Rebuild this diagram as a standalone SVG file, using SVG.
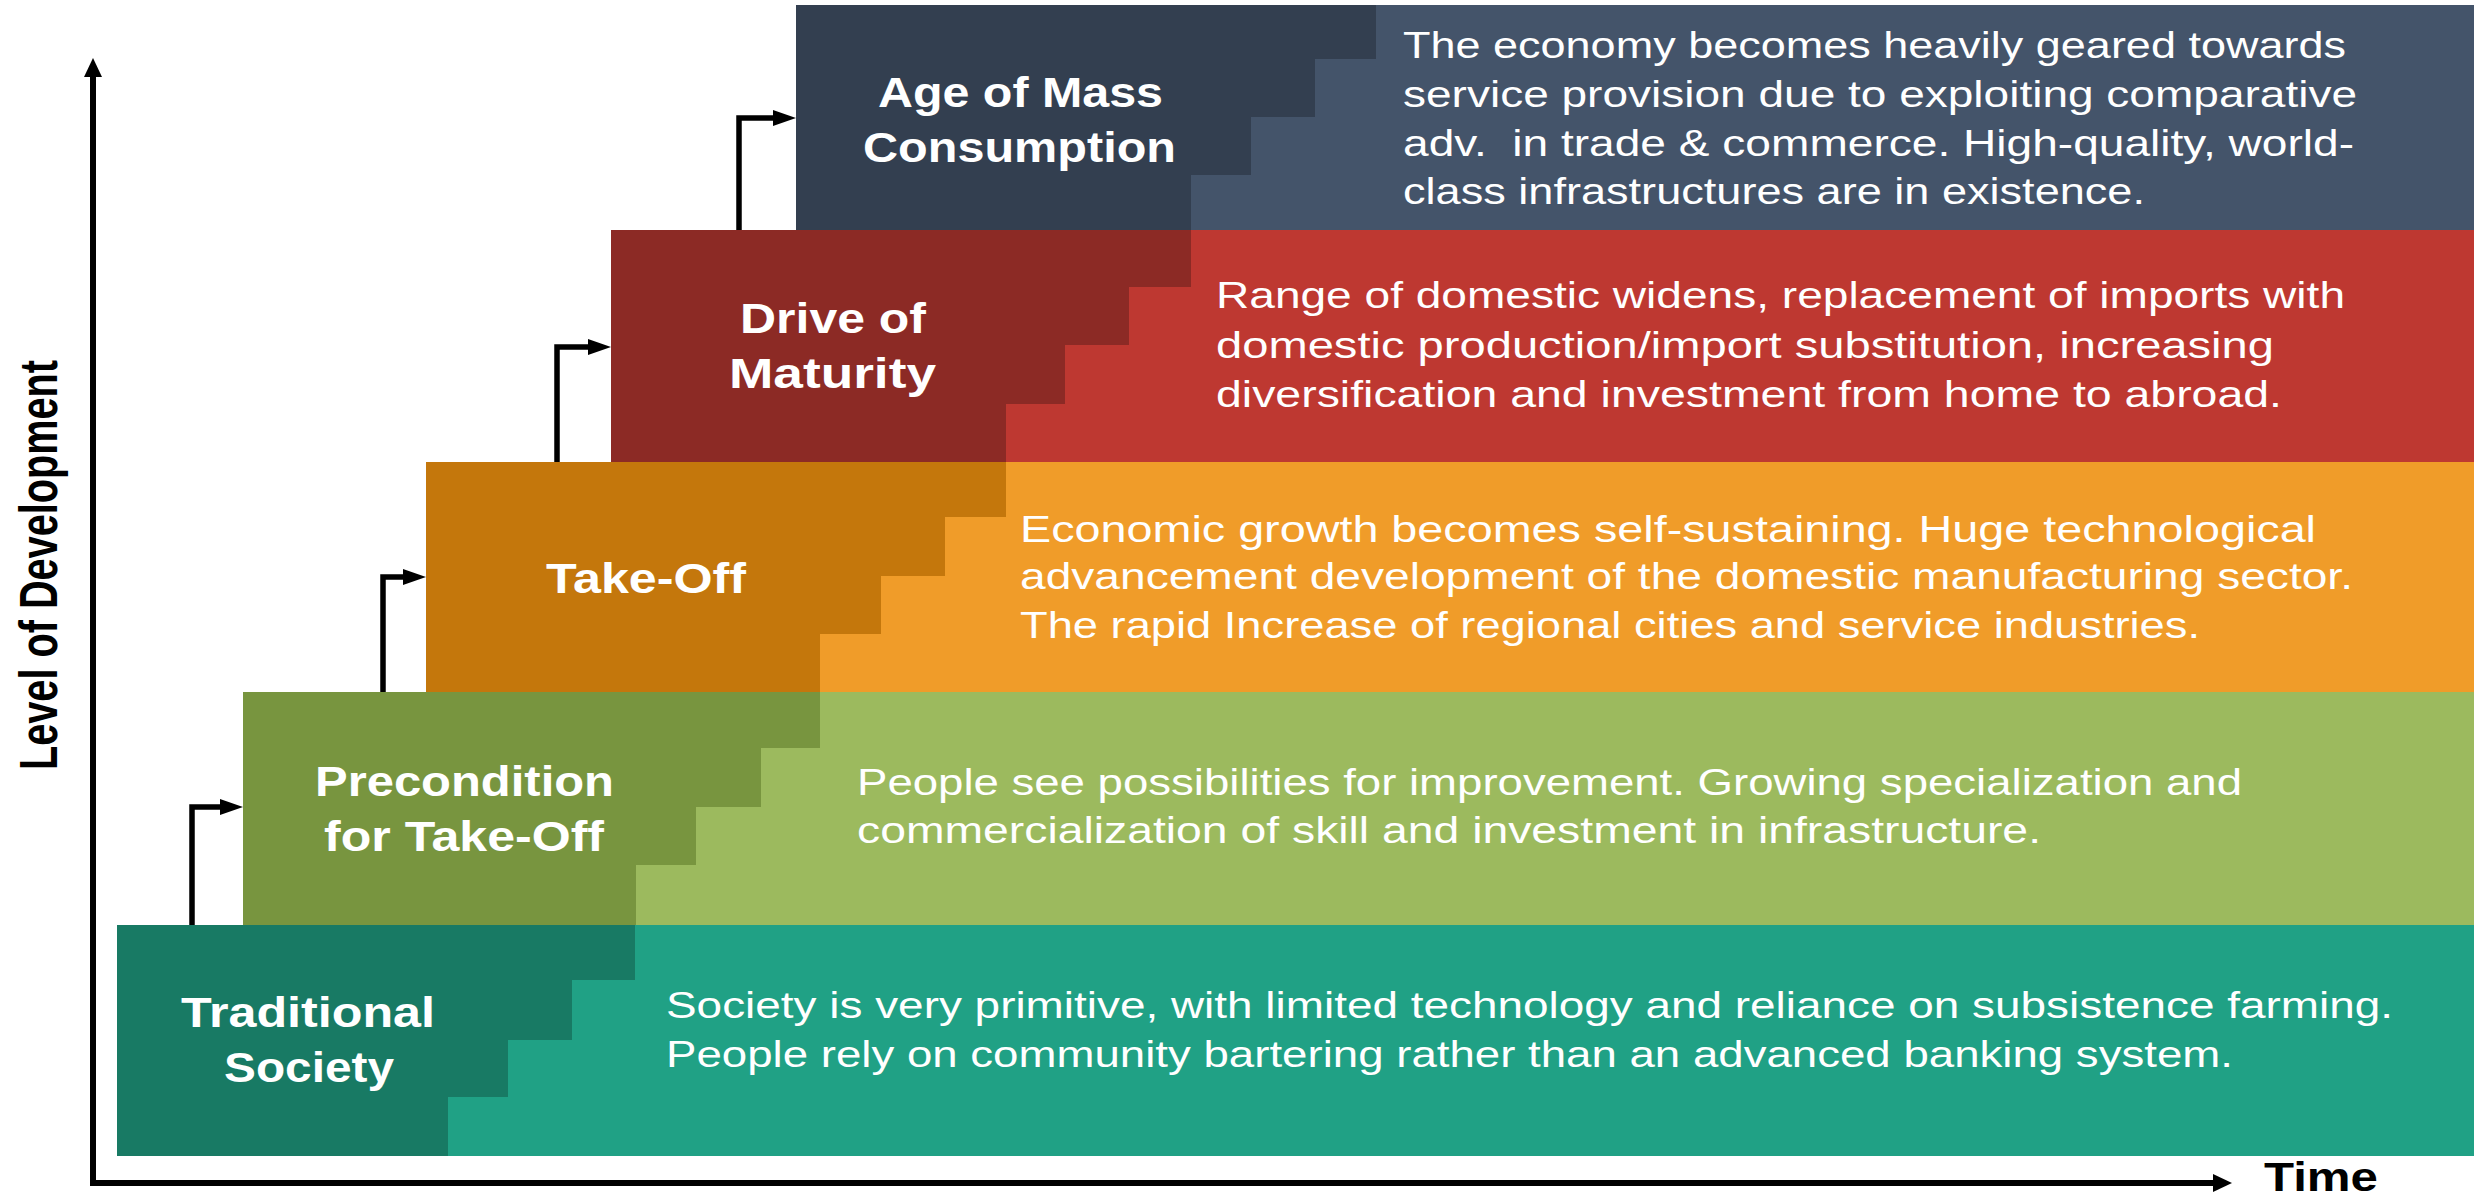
<svg xmlns="http://www.w3.org/2000/svg" width="2476" height="1201" viewBox="0 0 2476 1201">
<style>
  text { font-family: "Liberation Sans", Arial, sans-serif; }
  .lbl { font-weight: bold; font-size: 42px; fill: #FFFFFF; }
  .desc { font-size: 37px; fill: #FFFFFF; }
  .ax { fill: none; stroke: #000000; stroke-width: 6; stroke-linejoin: miter; }
  .conn { fill: none; stroke: #000000; stroke-width: 5.5; stroke-linejoin: miter; }
  .axtxt { font-weight: bold; fill: #000000; }
</style>
<defs>
  <marker id="axHead" markerUnits="userSpaceOnUse" markerWidth="20" markerHeight="20" refX="1" refY="10" orient="auto-start-reverse">
    <path d="M0,1 L19,10 L0,19 z" fill="#000000"/>
  </marker>
  <marker id="cnHead" markerUnits="userSpaceOnUse" markerWidth="24" markerHeight="18" refX="2" refY="9" orient="auto">
    <path d="M0,1 L23,9 L0,17 z" fill="#000000"/>
  </marker>
</defs>
<rect x="0" y="0" width="2476" height="1201" fill="#FFFFFF"/>

<g id="axes">
  <path class="ax" d="M93,76 V1183 H2214" marker-start="url(#axHead)" marker-end="url(#axHead)"/>
  <text class="axtxt" x="2264" y="1191" font-size="40" textLength="114" lengthAdjust="spacingAndGlyphs">Time</text>
  <text class="axtxt" transform="translate(57,770) rotate(-90)" x="0" y="0" font-size="53" textLength="410" lengthAdjust="spacingAndGlyphs">Level of Development</text>
</g>

<g id="stage-traditional">
  <rect x="117" y="925" width="2357" height="231" fill="#20A185"/>
  <polygon points="117,925 635,925 635,980 572,980 572,1040 508,1040 508,1097 448,1097 448,1156 117,1156" fill="#187A64"/>
  <text class="lbl" x="181" y="1027" textLength="254" lengthAdjust="spacingAndGlyphs">Traditional</text>
  <text class="lbl" x="224" y="1082" textLength="170" lengthAdjust="spacingAndGlyphs">Society</text>
  <text class="desc" x="666" y="1018" textLength="1727" lengthAdjust="spacingAndGlyphs">Society is very primitive, with limited technology and reliance on subsistence farming.</text>
  <text class="desc" x="666" y="1067" textLength="1567" lengthAdjust="spacingAndGlyphs">People rely on community bartering rather than an advanced banking system.</text>
</g>

<g id="stage-precondition">
  <rect x="243" y="692" width="2231" height="233" fill="#9CBA5E"/>
  <polygon points="243,692 820,692 820,748 761,748 761,807 696,807 696,865 636,865 636,925 243,925" fill="#78953F"/>
  <text class="lbl" x="315" y="796" textLength="299" lengthAdjust="spacingAndGlyphs">Precondition</text>
  <text class="lbl" x="324" y="851" textLength="280" lengthAdjust="spacingAndGlyphs">for Take-Off</text>
  <text class="desc" x="857" y="795" textLength="1385" lengthAdjust="spacingAndGlyphs">People see possibilities for improvement. Growing specialization and</text>
  <text class="desc" x="857" y="843" textLength="1184" lengthAdjust="spacingAndGlyphs">commercialization of skill and investment in infrastructure.</text>
</g>

<g id="stage-takeoff">
  <rect x="426" y="462" width="2048" height="230" fill="#F09C29"/>
  <polygon points="426,462 1006,462 1006,517 945,517 945,576 881,576 881,634 820,634 820,692 426,692" fill="#C4770C"/>
  <text class="lbl" x="546" y="593" textLength="200" lengthAdjust="spacingAndGlyphs">Take-Off</text>
  <text class="desc" x="1020" y="542" textLength="1296" lengthAdjust="spacingAndGlyphs">Economic growth becomes self-sustaining. Huge technological</text>
  <text class="desc" x="1020" y="589" textLength="1333" lengthAdjust="spacingAndGlyphs">advancement development of the domestic manufacturing sector.</text>
  <text class="desc" x="1020" y="638" textLength="1180" lengthAdjust="spacingAndGlyphs">The rapid Increase of regional cities and service industries.</text>
</g>

<g id="stage-drive">
  <rect x="611" y="230" width="1863" height="232" fill="#BE3831"/>
  <polygon points="611,230 1191,230 1191,287 1129,287 1129,345 1065,345 1065,404 1006,404 1006,462 611,462" fill="#8C2A25"/>
  <text class="lbl" x="740" y="333" textLength="186" lengthAdjust="spacingAndGlyphs">Drive of</text>
  <text class="lbl" x="729" y="388" textLength="207" lengthAdjust="spacingAndGlyphs">Maturity</text>
  <text class="desc" x="1216" y="308" textLength="1129" lengthAdjust="spacingAndGlyphs">Range of domestic widens, replacement of imports with</text>
  <text class="desc" x="1216" y="358" textLength="1058" lengthAdjust="spacingAndGlyphs">domestic production/import substitution, increasing</text>
  <text class="desc" x="1216" y="407" textLength="1066" lengthAdjust="spacingAndGlyphs">diversification and investment from home to abroad.</text>
</g>

<g id="stage-mass-consumption">
  <rect x="796" y="5" width="1678" height="225" fill="#44546A"/>
  <polygon points="796,5 1376,5 1376,59 1315,59 1315,117 1251,117 1251,175 1191,175 1191,230 796,230" fill="#333F50"/>
  <text class="lbl" x="878" y="107" textLength="285" lengthAdjust="spacingAndGlyphs">Age of Mass</text>
  <text class="lbl" x="863" y="162" textLength="313" lengthAdjust="spacingAndGlyphs">Consumption</text>
  <text class="desc" x="1403" y="58" textLength="943" lengthAdjust="spacingAndGlyphs">The economy becomes heavily geared towards</text>
  <text class="desc" x="1403" y="107" textLength="954" lengthAdjust="spacingAndGlyphs">service provision due to exploiting comparative</text>
  <text class="desc" x="1403" y="156" textLength="951" lengthAdjust="spacingAndGlyphs" xml:space="preserve">adv.  in trade &amp; commerce. High-quality, world-</text>
  <text class="desc" x="1403" y="204" textLength="742" lengthAdjust="spacingAndGlyphs">class infrastructures are in existence.</text>
</g>

<g id="connectors">
  <path class="conn" d="M192,925 V807 H222" marker-end="url(#cnHead)"/>
  <path class="conn" d="M383,692 V577 H405" marker-end="url(#cnHead)"/>
  <path class="conn" d="M557,462 V347 H590" marker-end="url(#cnHead)"/>
  <path class="conn" d="M739,230 V118 H775" marker-end="url(#cnHead)"/>
</g>
</svg>
